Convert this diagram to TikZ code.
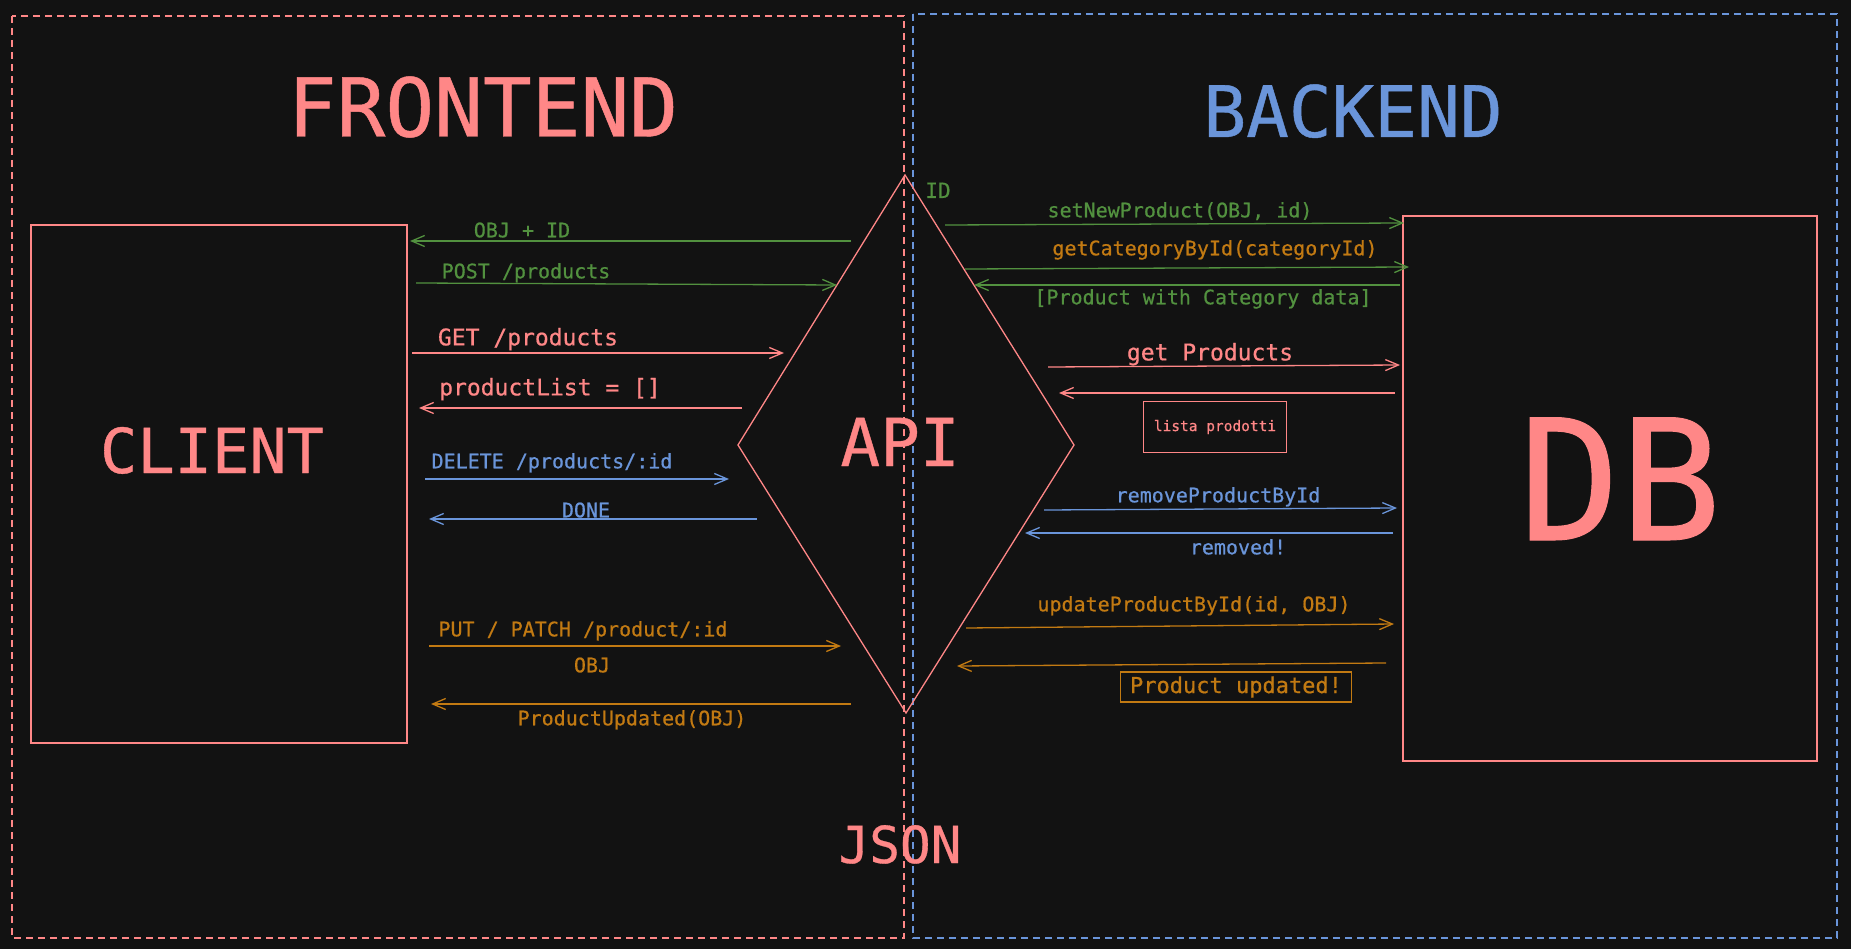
\documentclass[tikz,border=0pt]{standalone}
\usepackage{fontspec}
\setmainfont{DejaVu Sans Mono}[BoldFont={DejaVu Sans Mono}, BoldFeatures={FakeBold=0.6}]
\usetikzlibrary{arrows.meta}
\definecolor{bg}{HTML}{121212}
\definecolor{sal}{HTML}{FF8787}
\definecolor{blu}{HTML}{6A95DA}
\definecolor{grn}{HTML}{52913F}
\definecolor{org}{HTML}{C27A12}
\begin{document}
\begin{tikzpicture}[x=1pt,y=-1pt,
  lbl/.style={inner sep=0pt, anchor=base, font=\bfseries\fontsize{20}{24}\selectfont},
  lblL/.style={inner sep=0pt, anchor=base, font=\bfseries\fontsize{23}{27}\selectfont},
  title/.style={inner sep=0pt, anchor=base},
  arr/.style={line width=1.3pt, -{Straight Barb[length=13pt,width=11pt,line width=1.3pt]}},
  zone/.style={line width=1.4pt, dash pattern=on 7pt off 5pt},
  solidbox/.style={draw=sal, line width=1.5pt},
]
\useasboundingbox[fill=bg] (0,0) rectangle (1851,949);

% zones
\draw[zone, sal] (12,16) rectangle (904,938);
\draw[zone, blu] (913,14) rectangle (1837,938);
\node[title, sal, font=\bfseries\fontsize{81}{90}\selectfont] (fe) at (483,136.5) {FRONTEND};
\node[title, blu, font=\bfseries\fontsize{71}{80}\selectfont] (be) at (1353,137) {BACKEND};

% client & db
\draw[solidbox] (31,225) rectangle (407,743);
\node[title, sal, font=\bfseries\fontsize{62}{70}\selectfont] (client) at (212,473) {CLIENT};
\draw[solidbox] (1403,216) rectangle (1817,761);
\node[title, sal, font=\bfseries\fontsize{168}{180}\selectfont] (db) at (1620,540) {DB};

% API diamond
\coordinate (dT) at (905,175);
\coordinate (dL) at (738,445);
\coordinate (dR) at (1074,445);
\coordinate (dB) at (906,713);
\draw[sal, line width=1.3pt, line join=miter] (dT) -- (dR) -- (dB) -- (dL) -- cycle;
\node[title, sal, font=\bfseries\fontsize{66}{74}\selectfont] (api) at (900,466) {API};
\node[title, sal, font=\bfseries\fontsize{51}{58}\selectfont] (json) at (900,863) {JSON};
\node[lbl, grn, font=\bfseries\fontsize{21}{25}\selectfont] (id) at (938,198) {ID};

% ---------- left side ----------
\coordinate (a1s) at (851,241); \coordinate (a1e) at (410,241);
\draw[arr, grn] (a1s) -- (a1e);
\node[lbl, grn] (l1) at (522,237.3) {OBJ + ID};

\coordinate (a2s) at (416,283); \coordinate (a2e) at (837,285);
\draw[arr, grn] (a2s) -- (a2e);
\node[lbl, grn] (l2) at (526,278.3) {POST /products};

\coordinate (a3s) at (412,353); \coordinate (a3e) at (784,353);
\draw[arr, sal] (a3s) -- (a3e);
\node[lblL, sal] (l3) at (528,345.4) {GET /products};

\coordinate (a4s) at (742,408); \coordinate (a4e) at (419,408);
\draw[arr, sal] (a4s) -- (a4e);
\node[lblL, sal] (l4) at (550,395.4) {productList = []};

\coordinate (a5s) at (425,479); \coordinate (a5e) at (729,479);
\draw[arr, blu] (a5s) -- (a5e);
\node[lbl, blu] (l5) at (552,468.3) {DELETE /products/:id};

\coordinate (a6s) at (757,519); \coordinate (a6e) at (429,519);
\draw[arr, blu] (a6s) -- (a6e);
\node[lbl, blu] (l6) at (586,517.3) {DONE};

\coordinate (a7s) at (429,646); \coordinate (a7e) at (841,646);
\draw[arr, org] (a7s) -- (a7e);
\node[lbl, org] (l7) at (583,636.3) {PUT / PATCH /product/:id};
\node[lbl, org] (l7b) at (592,672.3) {OBJ};

\coordinate (a8s) at (851,704); \coordinate (a8e) at (431,704);
\draw[arr, org] (a8s) -- (a8e);
\node[lbl, org] (l8) at (632,725.3) {ProductUpdated(OBJ)};

% ---------- right side ----------
\coordinate (b1s) at (945,225); \coordinate (b1e) at (1404,223);
\draw[arr, grn] (b1s) -- (b1e);
\node[lbl, grn] (m1) at (1180,217.3) {setNewProduct(OBJ, id)};

\coordinate (b2s) at (965,269); \coordinate (b2e) at (1409,267);
\draw[arr, grn] (b2s) -- (b2e);
\node[lbl, org] (m2) at (1215,255.3) {getCategoryById(categoryId)};

\coordinate (b3s) at (1400,285); \coordinate (b3e) at (974,285);
\draw[arr, grn] (b3s) -- (b3e);
\node[lbl, grn] (m3) at (1203,304.3) {[Product with Category data]};

\coordinate (b4s) at (1048,367); \coordinate (b4e) at (1400,365);
\draw[arr, sal] (b4s) -- (b4e);
\node[lblL, sal] (m4) at (1210,360.4) {get Products};

\coordinate (b5s) at (1395,393); \coordinate (b5e) at (1059,393);
\draw[arr, sal] (b5s) -- (b5e);
\node[draw=sal, line width=1.3pt, minimum width=143pt, minimum height=51pt, inner sep=0pt,
      text=sal, font=\bfseries\fontsize{14.5}{17}\selectfont] (m5) at (1215,427) {lista prodotti};

\coordinate (b6s) at (1044,510); \coordinate (b6e) at (1397,508);
\draw[arr, blu] (b6s) -- (b6e);
\node[lbl, blu] (m6) at (1218,502.3) {removeProductById};

\coordinate (b7s) at (1393,533); \coordinate (b7e) at (1025,533);
\draw[arr, blu] (b7s) -- (b7e);
\node[lbl, blu] (m7) at (1238,554.3) {removed!};

\coordinate (b8s) at (966,628); \coordinate (b8e) at (1394,624);
\draw[arr, org] (b8s) -- (b8e);
\node[lbl, org] (m8) at (1194,611.3) {updateProductById(id, OBJ)};

\coordinate (b9s) at (1386,663); \coordinate (b9e) at (957,666);
\draw[arr, org] (b9s) -- (b9e);
\node[draw=org, line width=1.3pt, minimum width=231pt, minimum height=30pt, inner sep=0pt,
      text=org, font=\bfseries\fontsize{22}{26}\selectfont] (m9) at (1236,687) {Product updated!};
\end{tikzpicture}
\end{document}
